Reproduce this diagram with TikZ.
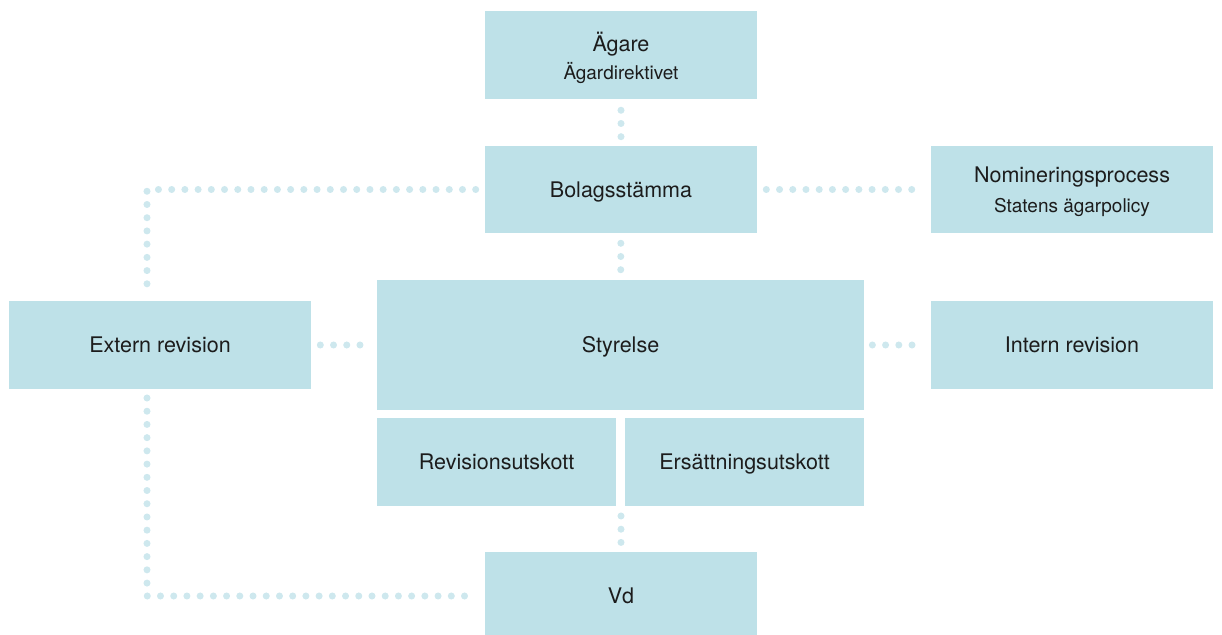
\documentclass[tikz,border=0pt]{standalone}
\usepackage{fontspec}
\setmainfont{TeX Gyre Heros}
\definecolor{boxblue}{RGB}{190,225,232}
\definecolor{dotblue}{RGB}{206,232,238}
\definecolor{textgray}{RGB}{28,28,28}
\newcommand{\smalltxt}{\fontsize{13.5}{16}\selectfont}

\begin{document}
\begin{tikzpicture}[x=0.025cm, y=-0.025cm,
  box/.style={rectangle, fill=boxblue, text=textgray, minimum width=6.8cm, minimum height=2.2cm, inner sep=0pt, align=center, font=\fontsize{15.3}{21.5}\selectfont},
  onebox/.style={box, text height=11pt, text depth=0pt},
  twobox/.style={box, text height=32.5pt, text depth=0pt},
  dotline/.style={dotblue, line width=5pt, line cap=round, dash pattern=on 0pt off 9.4pt}]
\useasboundingbox (0,0) rectangle (1222,635);

% Owner and general meeting
\node[twobox, font=\fontsize{15.3}{20}\selectfont, text height=35pt] (agare) at (621,55) {Ägare\\{\smalltxt Ägardirektivet}};
\node[onebox, minimum height=2.175cm] (stamma) at (621,189.5) {Bolagsstämma};
\node[twobox, minimum width=7.05cm, minimum height=2.175cm] (nomin) at (1072,189.5) {Nomineringsprocess\\{\smalltxt Statens ägarpolicy}};

% Board row
\node[onebox, minimum width=7.55cm] (extern) at (160,345) {Extern revision};
\node[onebox, minimum width=12.175cm, minimum height=3.25cm] (styrelse) at (620.5,345) {Styrelse};
\node[onebox, minimum width=7.05cm] (intern) at (1072,345) {Intern revision};

% Committees
\node[onebox, minimum width=5.975cm] (revu) at (496.5,462) {Revisionsutskott};
\node[onebox, minimum width=5.975cm] (ersu) at (744.5,462) {Ersättningsutskott};

% CEO
\node[onebox] (vd) at (621,596) {Vd};

% Free ends
\coordinate (exttop) at (147,301);
\coordinate (extbot) at (147,389);
\coordinate (utsgap) at (621,506);

% Dotted links
\draw[dotline, shorten <=7.8pt, shorten >=6.4pt] (agare) -- (stamma);
\draw[dotline, shorten <=7.1pt, shorten >=6.4pt] (stamma) -- (styrelse);
\draw[dotline, shorten <=6.4pt, shorten >=6.4pt] (stamma.west) -| (exttop);
\draw[dotline, shorten <=6.4pt, shorten >=4.3pt] (stamma.east) -- (nomin.west);
\draw[dotline, shorten <=6.4pt, shorten >=4.3pt] (extern.east) -- (styrelse.west);
\draw[dotline, shorten <=5.7pt, shorten >=4.3pt] (styrelse.east) -- (intern.west);
\draw[dotline, shorten <=6.4pt, shorten >=6.4pt] (extbot) |- (vd.west);
\draw[dotline, shorten <=7.1pt, shorten >=6.4pt] (utsgap) -- (vd);

\end{tikzpicture}
\end{document}
